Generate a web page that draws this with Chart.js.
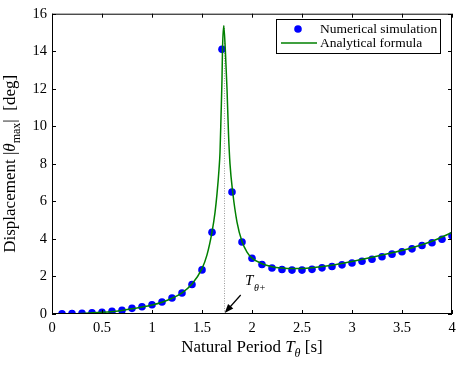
<!DOCTYPE html>
<html>
<head>
<meta charset="utf-8">
<script src="https://cdn.jsdelivr.net/npm/chart.js@4/dist/chart.umd.min.js"></script>
<style>
html, body { margin: 0; padding: 0; background: #fff; }
</style>
</head>
<body>
<canvas id="chart" width="461" height="365"></canvas>
<script>
// numerical simulation (blue dots)
const simPeriod = [0.1, 0.2, 0.3, 0.4, 0.5, 0.6, 0.7, 0.8, 0.9, 1.0,
    1.1, 1.2, 1.3, 1.4, 1.5, 1.6, 1.7, 1.8, 1.9, 2.0,
    2.1, 2.2, 2.3, 2.4, 2.5, 2.6, 2.7, 2.8, 2.9, 3.0,
    3.1, 3.2, 3.3, 3.4, 3.5, 3.6, 3.7, 3.8, 3.9, 4.0];
const simDisp = [0.01, 0.02, 0.04, 0.06, 0.09, 0.14, 0.2, 0.3, 0.39, 0.49,
    0.64, 0.85, 1.12, 1.57, 2.35, 4.35, 14.1, 6.5, 3.84, 2.97,
    2.64, 2.45, 2.37, 2.34, 2.34, 2.38, 2.46, 2.53, 2.62, 2.72,
    2.81, 2.92, 3.05, 3.19, 3.32, 3.47, 3.65, 3.8, 3.98, 4.17];

// analytical formula (green curve)
const formulaPeriod = [0.1, 0.3, 0.5, 0.7, 0.9, 1.0, 1.1, 1.2, 1.3, 1.4,
    1.5, 1.55, 1.6, 1.63, 1.65, 1.67, 1.68, 1.69, 1.7, 1.705,
    1.717, 1.733, 1.75, 1.765, 1.78, 1.807, 1.85, 1.9, 1.95, 2.0,
    2.1, 2.2, 2.3, 2.4, 2.5, 2.6, 2.8, 3.0, 3.2, 3.4, 3.6, 3.8, 4.0];
const formulaDisp = [0.0, 0.03, 0.09, 0.19, 0.37, 0.48, 0.63, 0.84, 1.13, 1.6,
    2.42, 3.15, 4.36, 5.4, 6.4, 7.7, 8.6, 10.5, 12.5, 14.1,
    15.36, 14.1, 12.0, 9.6, 8.0, 6.5, 4.9, 3.86, 3.3, 2.98,
    2.68, 2.52, 2.45, 2.42, 2.43, 2.47, 2.6, 2.8, 3.02, 3.26, 3.53, 3.88, 4.34];

const xTicks = [0, 0.5, 1, 1.5, 2, 2.5, 3, 3.5, 4];
const yTicks = [0, 2, 4, 6, 8, 10, 12, 14, 16];

const resonancePeriod = 1.717;
const resonancePeak = 15.36;

const serif = '"Liberation Serif", "Times New Roman", serif';
const blue = '#0000ff';
const green = '#008000';

function toPoints(xs, ys) {
    return xs.map((x, i) => ({ x: x, y: ys[i] }));
}

// draw a run of text pieces: [text, italic, sub]
function drawPieces(ctx, pieces, x, y, size, subSize, align) {
    let total = 0;
    pieces.forEach(p => {
        ctx.font = (p[1] ? 'italic ' : '') + (p[2] ? subSize : size) + 'px ' + serif;
        total += ctx.measureText(p[0]).width;
    });
    let cx = align === 'center' ? x - total / 2 : x;
    pieces.forEach(p => {
        ctx.font = (p[1] ? 'italic ' : '') + (p[2] ? subSize : size) + 'px ' + serif;
        ctx.fillText(p[0], cx, y + (p[2] ? 5 : 0));
        cx += ctx.measureText(p[0]).width;
    });
}

const decorations = {
    id: 'decorations',
    beforeDatasetsDraw(chart) {
        const ctx = chart.ctx;
        const xs = chart.scales.x, ys = chart.scales.y;
        const px = xs.getPixelForValue(resonancePeriod);
        ctx.save();
        ctx.strokeStyle = '#9a9a9a';
        ctx.lineWidth = 1;
        ctx.setLineDash([1, 1.5]);
        ctx.beginPath();
        ctx.moveTo(Math.round(px) + 0.5, ys.getPixelForValue(0));
        ctx.lineTo(Math.round(px) + 0.5, ys.getPixelForValue(resonancePeak));
        ctx.stroke();
        ctx.restore();
    },
    afterDraw(chart) {
        const ctx = chart.ctx;
        const a = chart.chartArea;
        const xs = chart.scales.x, ys = chart.scales.y;
        ctx.save();

        // box + inward ticks
        ctx.strokeStyle = '#000';
        ctx.lineWidth = 1;
        ctx.strokeRect(a.left + 0.5, a.top + 0.5, a.right - a.left - 1, a.bottom - a.top - 1);
        ctx.beginPath();
        xTicks.forEach(v => {
            const p = Math.round(xs.getPixelForValue(v)) + 0.5;
            ctx.moveTo(p, a.bottom); ctx.lineTo(p, a.bottom - 4);
            ctx.moveTo(p, a.top); ctx.lineTo(p, a.top + 4);
        });
        yTicks.forEach(v => {
            const p = Math.round(ys.getPixelForValue(v)) + 0.5;
            ctx.moveTo(a.left, p); ctx.lineTo(a.left + 4, p);
            ctx.moveTo(a.right, p); ctx.lineTo(a.right - 4, p);
        });
        ctx.stroke();

        // legend
        ctx.fillStyle = '#fff';
        ctx.fillRect(276, 19, 164, 34);
        ctx.strokeRect(276.5, 19.5, 164, 34);
        ctx.fillStyle = blue;
        ctx.beginPath();
        ctx.arc(298, 29, 3.8, 0, Math.PI * 2);
        ctx.fill();
        ctx.strokeStyle = green;
        ctx.lineWidth = 1.5;
        ctx.beginPath();
        ctx.moveTo(281, 43); ctx.lineTo(317, 43);
        ctx.stroke();
        ctx.fillStyle = '#000';
        ctx.font = '13.5px ' + serif;
        ctx.textBaseline = 'middle';
        ctx.textAlign = 'left';
        ctx.fillText('Numerical simulation', 320, 29);
        ctx.fillText('Analytical formula', 320, 43);

        // arrow to resonance period
        const tipX = xs.getPixelForValue(resonancePeriod) + 1;
        const tipY = ys.getPixelForValue(0) - 1;
        const sx = tipX + 16, sy = tipY - 18;
        const ang = Math.atan2(tipY - sy, tipX - sx);
        ctx.strokeStyle = '#000';
        ctx.lineWidth = 1.2;
        ctx.beginPath();
        ctx.moveTo(sx, sy);
        ctx.lineTo(tipX - 6 * Math.cos(ang), tipY - 6 * Math.sin(ang));
        ctx.stroke();
        ctx.fillStyle = '#000';
        ctx.beginPath();
        ctx.moveTo(tipX, tipY);
        ctx.lineTo(tipX - 9 * Math.cos(ang) + 3.5 * Math.sin(ang), tipY - 9 * Math.sin(ang) - 3.5 * Math.cos(ang));
        ctx.lineTo(tipX - 9 * Math.cos(ang) - 3.5 * Math.sin(ang), tipY - 9 * Math.sin(ang) + 3.5 * Math.cos(ang));
        ctx.closePath();
        ctx.fill();

        ctx.textBaseline = 'alphabetic';
        ctx.font = 'italic 15px ' + serif;
        ctx.fillText('T', 245, 285);
        ctx.font = 'italic 10px ' + serif;
        ctx.fillText('θ+', 254, 291);

        // axis titles
        drawPieces(ctx, [['Natural Period ', false, false], ['T', true, false], ['θ', true, true], [' [s]', false, false]],
            (a.left + a.right) / 2, 352, 17, 12, 'center');
        ctx.translate(15, (a.top + a.bottom) / 2);
        ctx.rotate(-Math.PI / 2);
        drawPieces(ctx, [['Displacement |', false, false], ['θ', true, false], ['max', false, true], ['|  [deg]', false, false]],
            0, 0, 17, 12, 'center');
        ctx.restore();
    }
};

new Chart(document.getElementById('chart'), {
    type: 'scatter',
    data: {
        datasets: [
            {
                label: 'Analytical formula',
                data: toPoints(formulaPeriod, formulaDisp),
                showLine: true,
                borderColor: green,
                borderWidth: 1.5,
                pointRadius: 0,
                cubicInterpolationMode: 'monotone'
            },
            {
                label: 'Numerical simulation',
                data: toPoints(simPeriod, simDisp),
                showLine: false,
                backgroundColor: blue,
                borderColor: blue,
                borderWidth: 0,
                pointRadius: 3.8
            }
        ]
    },
    options: {
        responsive: false,
        animation: false,
        layout: { padding: { top: 7, right: 9, left: 0, bottom: 0 } },
        plugins: {
            legend: { display: false },
            tooltip: { enabled: false }
        },
        scales: {
            x: {
                type: 'linear',
                min: 0,
                max: 4,
                afterBuildTicks: s => { s.ticks = xTicks.map(v => ({ value: v })); },
                afterFit: s => { s.height = 51; },
                grid: { display: false, drawTicks: false },
                border: { display: false },
                ticks: {
                    color: '#000',
                    padding: 5,
                    maxRotation: 0,
                    font: { family: serif, size: 14.5 },
                    callback: v => String(v)
                }
            },
            y: {
                min: 0,
                max: 16,
                afterBuildTicks: s => { s.ticks = yTicks.map(v => ({ value: v })); },
                afterFit: s => { s.width = 52; },
                grid: { display: false, drawTicks: false },
                border: { display: false },
                ticks: {
                    color: '#000',
                    padding: 5,
                    font: { family: serif, size: 14.5 },
                    callback: v => String(v)
                }
            }
        }
    },
    plugins: [decorations]
});
</script>
</body>
</html>
